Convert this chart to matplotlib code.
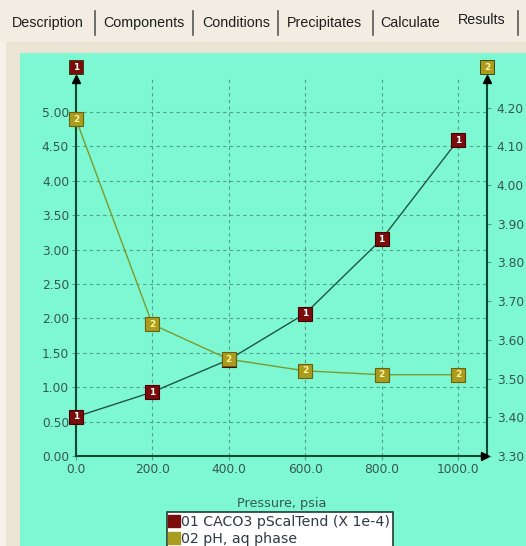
import matplotlib.pyplot as plt
from matplotlib.patches import Rectangle
from matplotlib.lines import Line2D

# data
pressure = [0, 200, 400, 600, 800, 1000]
scal_tend = [0.57, 0.93, 1.40, 2.07, 3.15, 4.59]      # CACO3 pScalTend (X 1e-4), left axis
ph_aq = [4.17, 3.64, 3.55, 3.52, 3.51, 3.51]          # pH, aq phase, right axis

x_ticks = [0, 200, 400, 600, 800, 1000]
left_ticks = [0.0, 0.5, 1.0, 1.5, 2.0, 2.5, 3.0, 3.5, 4.0, 4.5, 5.0]
right_ticks = [3.30, 3.40, 3.50, 3.60, 3.70, 3.80, 3.90, 4.00, 4.10, 4.20]
tab_names = ["Description", "Components", "Conditions", "Precipitates", "Calculate", "Results"]
legend_labels = ["01 CACO3 pScalTend (X 1e-4)", "02 pH, aq phase"]

W, H = 526, 546
AQUA = "#7ef8d2"
BEIGE = "#ece4d4"
RED = "#7a0c0c"
OLIVE = "#aa9c1e"
SPINE = "#0b4a32"
TXT = "#35584e"
GRID = "#4f9f8c"

plt.rcParams["font.family"] = ["DejaVu Sans"]

fig = plt.figure(figsize=(W / 100, H / 100), dpi=100)
fig.patch.set_facecolor(BEIGE)

# lighter strip at the very left and behind the tabs
fig.patches.append(Rectangle((0, 0), 6 / W, 1, transform=fig.transFigure, fc="#f6f2ea", ec="none", zorder=-2))
fig.patches.append(Rectangle((0, 1 - 42 / H), 1, 42 / H, transform=fig.transFigure, fc="#f1ede2", ec="none", zorder=-2))
# aqua chart panel
fig.patches.append(Rectangle((20 / W, 0), 1 - 20 / W, 1 - 53 / H, transform=fig.transFigure,
                             fc=AQUA, ec="none", zorder=-1))

# tab strip
tab_x = [12, 103, 202, 287, 380, 458]
sep_x = [95, 193, 278, 373, 518]
for name, tx in zip(tab_names, tab_x):
    ty = 20 if name == "Results" else 23
    fig.text(tx / W, 1 - ty / H, name, fontsize=10.3, color="#1e1e1e", ha="left", va="center",
             family=["Liberation Sans", "DejaVu Sans"])
for sx in sep_x:
    fig.add_artist(Line2D([sx / W, sx / W], [1 - 11 / H, 1 - 35 / H], transform=fig.transFigure,
                          color="#555555", lw=1.2))

# main axes
left, bottom = 76 / W, 1 - 456 / H
ax = fig.add_axes([left, bottom, 411 / W, 377 / H])
ax.set_facecolor("none")
ax.set_xlim(0, 1076)
ax.set_ylim(0, 5.48)
ax2 = ax.twinx()
ax2.set_ylim(3.30, 4.274)

# left/bottom spines belong to ax, right spine to ax2, so markers stay on top
ax.spines[["top", "right"]].set_visible(False)
ax2.spines[["top", "left", "bottom"]].set_visible(False)
for a, sides in ((ax, ("left", "bottom")), (ax2, ("right",))):
    for s in sides:
        a.spines[s].set_color(SPINE)
        a.spines[s].set_linewidth(1.5)

ax.set_xticks(x_ticks)
ax.set_xticklabels([f"{v:.1f}" for v in x_ticks])
ax.set_yticks(left_ticks)
ax.set_yticklabels([f"{v:.2f}" for v in left_ticks])
ax2.set_yticks(right_ticks)
ax2.set_yticklabels([f"{v:.2f}" for v in right_ticks])
ax.tick_params(axis="both", colors=GRID, labelcolor=TXT, labelsize=8.8, length=3, width=0.8, pad=2)
ax2.tick_params(axis="y", colors=GRID, labelcolor=TXT, labelsize=8.8, length=3, width=0.8, pad=4)

ax.grid(True, color=GRID, linestyle=(0, (3, 3)), linewidth=0.8)
ax.set_axisbelow(True)
ax.set_xlabel("Pressure, psia", fontsize=9.2, color=TXT, labelpad=15)

# series
ax.plot(pressure, scal_tend, color="#1f5546", lw=1.0, marker="s", ms=9.5,
        mfc=RED, mec="#4a0000", mew=0.8, zorder=3, clip_on=False)
for x, y in zip(pressure, scal_tend):
    ax.text(x, y, "1", color="white", fontsize=6.5, fontweight="bold", ha="center", va="center", zorder=4)

ax2.plot(pressure, ph_aq, color="#7a9c2c", lw=1.0, marker="s", ms=9.5,
         mfc=OLIVE, mec="#6a6010", mew=0.8, zorder=3, clip_on=False)
for x, y in zip(pressure, ph_aq):
    ax2.text(x, y, "2", color="#fff4a0", fontsize=6.5, fontweight="bold", ha="center", va="center", zorder=4)

# arrow heads on the axes
ax2.plot([0], [1], marker="^", ms=6, color="black", transform=ax2.transAxes, clip_on=False, zorder=5)
ax2.plot([1], [1], marker="^", ms=6, color="black", transform=ax2.transAxes, clip_on=False, zorder=5)
ax2.plot([0.995], [0], marker=">", ms=6, color="black", transform=ax2.transAxes, clip_on=False, zorder=5)

# series tags above each y axis
for xa, tag, fc, tc in ((0, "1", RED, "white"), (1, "2", OLIVE, "#fff4a0")):
    ax2.plot([xa], [1.031], marker="s", ms=9.5, mfc=fc, mec="#333300", mew=0.6,
             transform=ax2.transAxes, clip_on=False, zorder=5)
    ax2.text(xa, 1.031, tag, color=tc, fontsize=6.5, fontweight="bold", ha="center", va="center",
             transform=ax2.transAxes, zorder=6)

# legend, cut off at the bottom like the screenshot
handles = [Line2D([], [], ls="none", marker="s", ms=9, mfc=RED, mec=RED),
           Line2D([], [], ls="none", marker="s", ms=9, mfc=OLIVE, mec=OLIVE)]
leg = fig.legend(handles, legend_labels, loc="upper center", bbox_to_anchor=(280 / W, 1 - 512 / H),
                 fontsize=10.2, frameon=True, fancybox=False, framealpha=1, borderpad=0.2,
                 handlelength=0.6, handletextpad=0.2, labelspacing=0.2, borderaxespad=0)
leg.get_frame().set_edgecolor("#203c30")
leg.get_frame().set_linewidth(1.2)
leg.get_frame().set_facecolor("white")
for t in leg.get_texts():
    t.set_color("#303848")

fig.savefig("out.png", dpi=100, facecolor=fig.get_facecolor())
